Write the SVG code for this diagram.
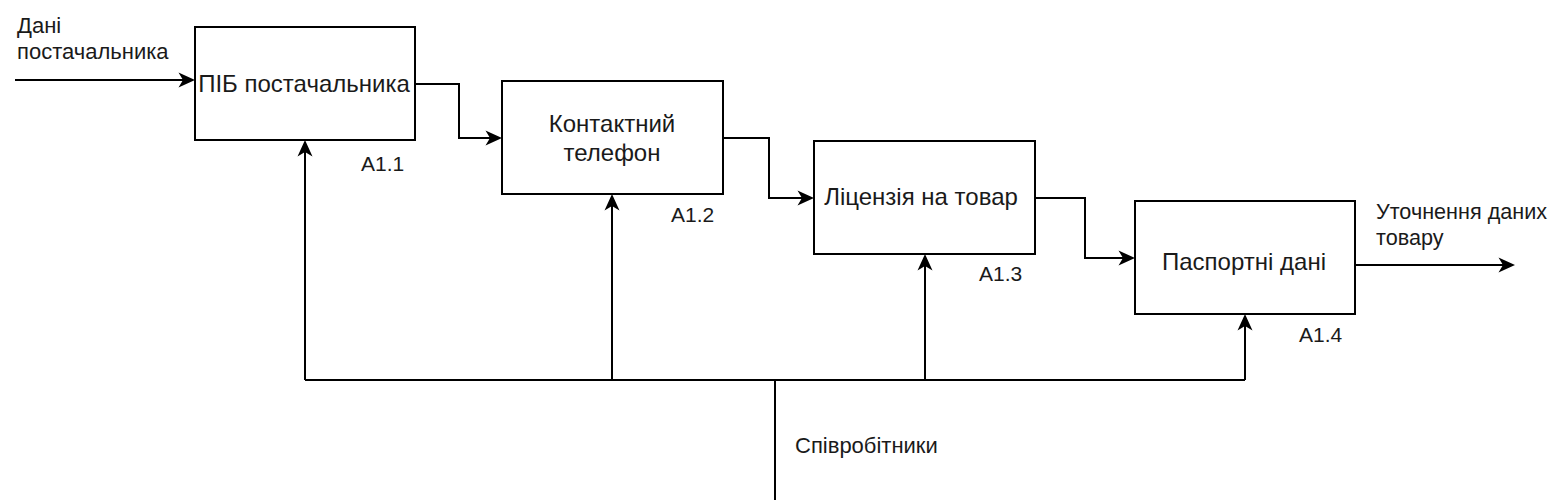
<svg xmlns="http://www.w3.org/2000/svg" width="1556" height="504" viewBox="0 0 1556 504">
<style>
.box{fill:#ffffff;stroke:#000000;stroke-width:2}
.ln{fill:none;stroke:#000000;stroke-width:2}
.t{font-family:"Liberation Sans",Arial,sans-serif;font-size:22px;fill:#1a1a1a}
.bt{font-family:"Liberation Sans",Arial,sans-serif;font-size:24px;fill:#1a1a1a;text-anchor:middle}
.lb{font-family:"Liberation Sans",Arial,sans-serif;font-size:21px;fill:#1a1a1a}
</style>
<defs>
<marker id="arr" markerUnits="userSpaceOnUse" viewBox="-24 -9 26 18" markerWidth="26" markerHeight="18" refX="-8" refY="0" orient="auto">
<path d="M0,0 L-16.5,-7.5 L-12,0 L-16.5,7.5 Z" fill="#000000"/>
</marker>
</defs>
<rect width="1556" height="504" fill="#ffffff"/>
<g id="connectors">
<path class="ln" d="M15,80 H187" marker-end="url(#arr)"/>
<path class="ln" d="M415,84 H459 V138 H494" marker-end="url(#arr)"/>
<path class="ln" d="M723,138 H769 V198 H806" marker-end="url(#arr)"/>
<path class="ln" d="M1035,198 H1085 V258 H1127" marker-end="url(#arr)"/>
<path class="ln" d="M1355,265 H1507" marker-end="url(#arr)"/>
<path class="ln" d="M305,380 V148" marker-end="url(#arr)"/>
<path class="ln" d="M612,380 V202" marker-end="url(#arr)"/>
<path class="ln" d="M925,380 V262" marker-end="url(#arr)"/>
<path class="ln" d="M1245,380 V322" marker-end="url(#arr)"/>
<path class="ln" d="M305,380 H1245 M775,380 V500"/>
<text class="t" x="17" y="33">Дані</text>
<text class="t" x="17" y="59">постачальника</text>
<text class="t" x="1376" y="219" style="font-size:21.6px">Уточнення даних</text>
<text class="t" x="1376" y="245" style="font-size:21.6px">товару</text>
<text class="t" x="795" y="453">Співробітники</text>
</g>
<g id="node-a11">
<rect class="box" x="195" y="27" width="220" height="113"/>
<text class="bt" x="304" y="92">ПІБ постачальника</text>
<text class="lb" x="361" y="171">A1.1</text>
</g>
<g id="node-a12">
<rect class="box" x="502" y="81" width="221" height="113"/>
<text class="bt" x="612" y="132">Контактний</text>
<text class="bt" x="612" y="161">телефон</text>
<text class="lb" x="671" y="222">A1.2</text>
</g>
<g id="node-a13">
<rect class="box" x="814" y="141" width="221" height="113"/>
<text class="bt" x="921" y="205">Ліцензія на товар</text>
<text class="lb" x="979" y="281">A1.3</text>
</g>
<g id="node-a14">
<rect class="box" x="1135" y="201" width="220" height="113"/>
<text class="bt" x="1244" y="270">Паспортні дані</text>
<text class="lb" x="1299" y="342">A1.4</text>
</g>
</svg>
